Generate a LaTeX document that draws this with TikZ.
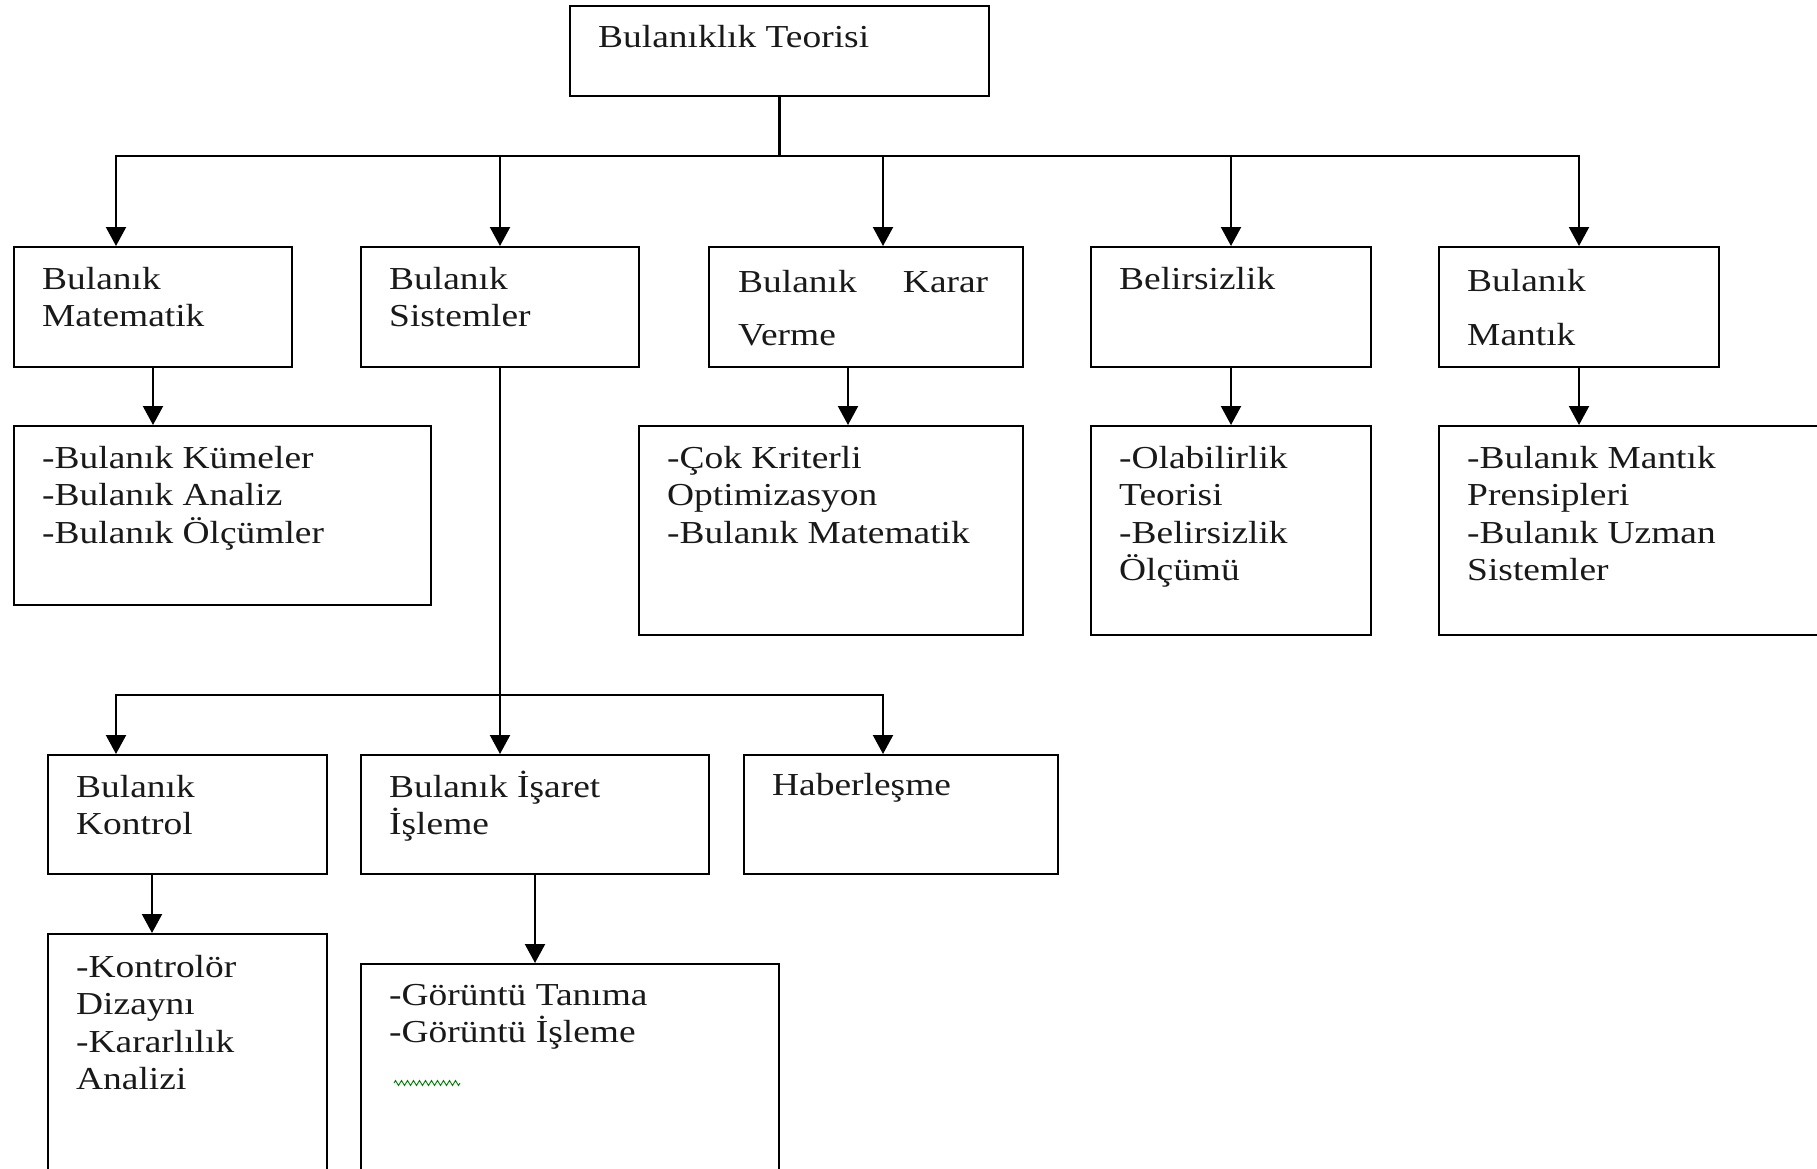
\documentclass[tikz,border=0pt]{standalone}
\usepackage{fontspec}
\setmainfont{Liberation Serif}[FakeStretch=1.17]
\usetikzlibrary{arrows.meta,calc,decorations.pathmorphing}
\newcommand{\ml}[1]{\begin{tabular}[t]{@{}l@{}}#1\end{tabular}}
\begin{document}
\begin{tikzpicture}[x=1pt,y=-1pt,
  box/.style={draw, line width=2pt, rectangle, inner sep=0pt, anchor=north west},
  txt/.style={anchor=base west, inner sep=0pt, font=\fontsize{32}{37.5}\selectfont, text=black!90},
  arr/.style={line width=2.2pt, -{Triangle[width=20pt,length=19pt]}},
  ln/.style={line width=2.2pt}]
\useasboundingbox (0,0) rectangle (1817,1169);
\clip (0,0) rectangle (1817,1169);
\fill[white] (0,0) rectangle (1817,1169);

% boxes
\node[box, minimum width=419pt, minimum height=90pt] (top) at (569,5) {};
\node[box, minimum width=278pt, minimum height=120pt] (mat) at (13,246) {};
\node[box, minimum width=278pt, minimum height=120pt] (sis) at (360,246) {};
\node[box, minimum width=314pt, minimum height=120pt] (kar) at (708,246) {};
\node[box, minimum width=280pt, minimum height=120pt] (bel) at (1090,246) {};
\node[box, minimum width=280pt, minimum height=120pt] (man) at (1438,246) {};
\node[box, minimum width=417pt, minimum height=179pt] (kum) at (13,425) {};
\node[box, minimum width=384pt, minimum height=209pt] (cok) at (638,425) {};
\node[box, minimum width=280pt, minimum height=209pt] (ola) at (1090,425) {};
\node[box, minimum width=420pt, minimum height=209pt] (pre) at (1438,425) {};
\node[box, minimum width=279pt, minimum height=119pt] (kon) at (47,754) {};
\node[box, minimum width=348pt, minimum height=119pt] (isa) at (360,754) {};
\node[box, minimum width=314pt, minimum height=119pt] (hab) at (743,754) {};
\node[box, minimum width=279pt, minimum height=280pt] (ktr) at (47,933) {};
\node[box, minimum width=418pt, minimum height=250pt] (gor) at (360,963) {};

% texts
\node[txt] (topT) at ($(top.north west)+(29,43)$) {Bulanıklık Teorisi};
\node[txt] (matT) at ($(mat.north west)+(29,43)$) {\ml{Bulanık\\Matematik}};
\node[txt] (sisT) at ($(sis.north west)+(29,43)$) {\ml{Bulanık\\Sistemler}};
\node[txt] (karT) at ($(kar.north west)+(30,46)$) {\ml{\makebox[250pt][l]{Bulanık\hfill Karar}\\[16pt]Verme}};
\node[txt] (belT) at ($(bel.north west)+(29,43)$) {Belirsizlik};
\node[txt] (manT) at ($(man.north west)+(29,45)$) {\ml{Bulanık\\[17pt]Mantık}};
\node[txt] (kumT) at ($(kum.north west)+(29,43)$) {\ml{-Bulanık Kümeler\\-Bulanık Analiz\\-Bulanık Ölçümler}};
\node[txt] (cokT) at ($(cok.north west)+(29,43)$) {\ml{-Çok Kriterli\\Optimizasyon\\-Bulanık Matematik}};
\node[txt] (olaT) at ($(ola.north west)+(29,43)$) {\ml{-Olabilirlik\\Teorisi\\-Belirsizlik\\Ölçümü}};
\node[txt] (preT) at ($(pre.north west)+(29,43)$) {\ml{-Bulanık Mantık\\Prensipleri\\-Bulanık Uzman\\Sistemler}};
\node[txt] (konT) at ($(kon.north west)+(29,43)$) {\ml{Bulanık\\Kontrol}};
\node[txt] (isaT) at ($(isa.north west)+(29,43)$) {\ml{Bulanık İşaret\\İşleme}};
\node[txt] (habT) at ($(hab.north west)+(29,41)$) {Haberleşme};
\node[txt] (ktrT) at ($(ktr.north west)+(29,44)$) {\ml{-Kontrolör\\Dizaynı\\-Kararlılık\\Analizi}};
\node[txt] (gorT) at ($(gor.north west)+(29,42)$) {\ml{-Görüntü Tanıma\\-Görüntü İşleme}};
\draw[green!50!black, line width=0.9pt, decorate, decoration={zigzag, segment length=6pt, amplitude=2.5pt}]
  ($(gor.north west)+(34,120)$) -- ($(gor.north west)+(100,120)$);

% connectors
\coordinate (bus1) at ($(top.south)+(0,59)$);
\draw[ln] (top.south) -- (bus1);
\draw[arr] (bus1) -| ([xshift=103pt]mat.north west);
\draw[arr] (bus1) -| (sis.north);
\draw[arr] (bus1) -| ([xshift=175pt]kar.north west);
\draw[arr] (bus1) -| (bel.north);
\draw[arr] (bus1) -| (man.north);

\draw[arr] (mat.south) -- (mat.south |- kum.north);
\draw[arr] ([xshift=140pt]kar.south west) -- ([xshift=140pt]kar.south west |- cok.north);
\draw[arr] (bel.south) -- (bel.south |- ola.north);
\draw[arr] (man.south) -- (man.south |- pre.north);

\coordinate (bus2) at ($(sis.south)+(0,327)$);
\draw[ln] (sis.south) -- (bus2);
\draw[arr] (bus2) -| ([xshift=69pt]kon.north west);
\draw[arr] (bus2) -| ([xshift=140pt]isa.north west);
\draw[arr] (bus2) -| ([xshift=140pt]hab.north west);

\draw[arr] ([xshift=105pt]kon.south west) -- ([xshift=105pt]kon.south west |- ktr.north);
\draw[arr] (isa.south) -- (isa.south |- gor.north);
\end{tikzpicture}
\end{document}
